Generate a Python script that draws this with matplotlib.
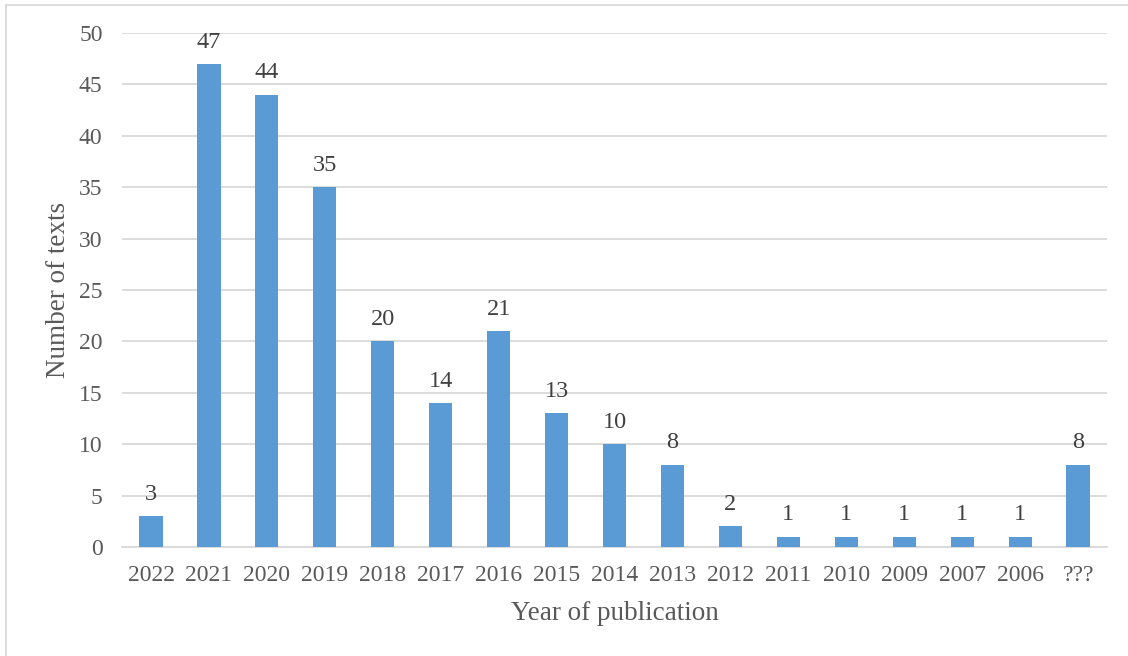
import matplotlib.pyplot as plt
from matplotlib.lines import Line2D

# data
years = ["2022", "2021", "2020", "2019", "2018", "2017", "2016", "2015", "2014",
         "2013", "2012", "2011", "2010", "2009", "2007", "2006", "???"]
counts = [3, 47, 44, 35, 20, 14, 21, 13, 10, 8, 2, 1, 1, 1, 1, 1, 8]
y_ticks = [0, 5, 10, 15, 20, 25, 30, 35, 40, 45, 50]

plt.rcParams["font.family"] = ["Liberation Serif", "DejaVu Serif"]

fig = plt.figure(figsize=(11.28, 6.56), dpi=100)
ax = fig.add_axes([0.1082, 0.1662, 0.8732, 0.7835])

x = range(len(years))
ax.bar(x, counts, width=0.40, color="#5B9BD5", zorder=3)
for xi, c in zip(x, counts):
    ax.text(xi, c + 1.1, str(c), ha="center", va="bottom", fontsize=17.5, color="#404040")

ax.set_xlim(-0.5, len(years) - 0.5)
ax.set_ylim(0, 50)
ax.set_yticks(y_ticks)
ax.set_xticks(list(x))
ax.set_xticklabels(years)
ax.yaxis.grid(True, color="#D9D9D9", linewidth=1.3, zorder=0)
ax.tick_params(axis="both", length=0, labelsize=17, labelcolor="#595959")
ax.tick_params(axis="y", pad=14)
ax.tick_params(axis="x", pad=13)
for s in ["top", "right", "left"]:
    ax.spines[s].set_visible(False)
ax.spines["bottom"].set_color("#D9D9D9")
ax.spines["bottom"].set_linewidth(1.3)

ax.set_xlabel("Year of publication", fontsize=19.5, color="#595959", labelpad=11)
ax.set_ylabel("Number of texts", fontsize=19.5, color="#595959", labelpad=6)

# light frame (left and top edges visible in the reference)
fx, fy = 5.5 / 1128, 1 - 4.5 / 656
fig.add_artist(Line2D([fx, fx], [0, fy], transform=fig.transFigure,
                      color="#D9D9D9", linewidth=1.3))
fig.add_artist(Line2D([fx, 1], [fy, fy], transform=fig.transFigure,
                      color="#D9D9D9", linewidth=1.3))

fig.savefig("out.png", dpi=100)
